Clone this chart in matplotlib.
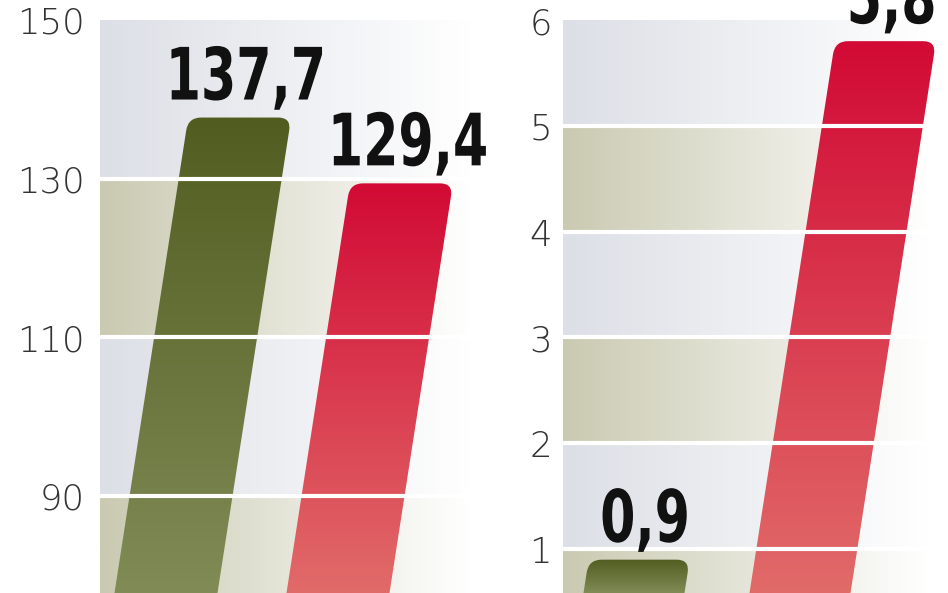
import numpy as np
import matplotlib
matplotlib.use("Agg")
import matplotlib.pyplot as plt
from matplotlib.path import Path
from matplotlib.patches import PathPatch
from matplotlib.patheffects import AbstractPathEffect
from matplotlib.transforms import Affine2D, blended_transform_factory, ScaledTranslation
from matplotlib import font_manager as fm
from matplotlib.colors import to_rgb

# ---- data ----
left_ticks = [90, 110, 130, 150]
left_values = [137.7, 129.4]
left_labels = ["137,7", "129,4"]
right_ticks = [1, 2, 3, 4, 5, 6]
right_values = [0.9, 5.8]
right_labels = ["0,9", "5,8"]

# ---- style ----
GREEN = ("#515d20", "#808b56")
RED = ("#d20a35", "#e16b69")
BAND_A = "#dcdfe6"
BAND_B = "#cacab2"
TICK_COLOR = "#333333"

names = {f.name for f in fm.fontManager.ttflist}
if "Liberation Sans Narrow" in names:
    LABEL_FONT = dict(family=["Liberation Sans Narrow", "DejaVu Sans"], fontweight="bold")
    SCALE_X = 1.0
else:
    LABEL_FONT = dict(family=["DejaVu Sans"], fontweight="bold", fontstretch="condensed")
    SCALE_X = 0.78


class HScale(AbstractPathEffect):
    """Compress a text horizontally about its own centre."""

    def __init__(self, sx):
        super().__init__()
        self.sx = sx

    def draw_path(self, renderer, gc, tpath, affine, rgbFace=None):
        v = affine.transform(tpath.vertices)
        if tpath.codes is not None:
            v = v[np.asarray(tpath.codes) != Path.CLOSEPOLY]
        if len(v):
            cx = (v[:, 0].min() + v[:, 0].max()) / 2
        else:
            cx = 0
        aff = affine + Affine2D().translate(-cx, 0).scale(self.sx, 1).translate(cx, 0)
        renderer.draw_path(gc, tpath, aff, rgbFace)


W, H = 948, 593
fig = plt.figure(figsize=(W / 100, H / 100), dpi=100)

AX_H = 573  # px
SLANT = 0.155  # horizontal px per vertical px


def draw_panel(ax_left_px, ax_w_px, bg_w, ylim, ticks, values, labels,
               centers, bar_w, colors, label_right_px):
    ax = fig.add_axes([ax_left_px / W, 0, ax_w_px / W, AX_H / H])
    ax.set_xlim(0, ax_w_px)
    ax.set_ylim(*ylim)
    ppu = AX_H / (ylim[1] - ylim[0])
    for s in ax.spines.values():
        s.set_visible(False)
    ax.set_xticks([])
    ax.set_yticks([])

    # tick labels
    tr = blended_transform_factory(ax.transAxes, ax.transData) + \
        ScaledTranslation(0, -4 / 100, fig.dpi_scale_trans)
    for t in ticks:
        ax.text(label_right_px / ax_w_px, t, str(t), transform=tr,
                ha="right", va="center", fontsize=25.5, color=TICK_COLOR,
                family="DejaVu Sans", fontweight="light", clip_on=False)

    # background bands with horizontal fade to white
    bounds = sorted(set([ylim[0]] + list(ticks)), reverse=True)
    tvals = np.linspace(0, 1, 256)
    for i in range(len(bounds) - 1):
        top, bot = bounds[i], bounds[i + 1]
        c = np.array(to_rgb(BAND_A if i % 2 == 0 else BAND_B))
        grad = c[None, :] + (1 - c[None, :]) * (tvals[:, None] ** 1.0)
        img = grad[None, :, :]
        ax.imshow(img, extent=(0, bg_w, bot, top), aspect="auto",
                  interpolation="bilinear", zorder=0)

    # slanted bars
    for j, (v, lab) in enumerate(zip(values, labels)):
        cx0 = centers[j]
        hp = (v - ylim[0]) * ppu
        r = 13
        xl = lambda yp: cx0 + SLANT * yp - bar_w / 2
        xr = lambda yp: cx0 + SLANT * yp + bar_w / 2
        ptsp = [
            (xl(-20), -20),
            (xl(hp - r), hp - r),
            (xl(hp), hp),
            (xl(hp) + r, hp),
            (xr(hp) - r, hp),
            (xr(hp), hp),
            (xr(hp - r), hp - r),
            (xr(-20), -20),
            (xl(-20), -20),
        ]
        codes = [Path.MOVETO, Path.LINETO, Path.CURVE3, Path.CURVE3,
                 Path.LINETO, Path.CURVE3, Path.CURVE3, Path.LINETO,
                 Path.CLOSEPOLY]
        verts = [(x, ylim[0] + y / ppu) for x, y in ptsp]
        patch = PathPatch(Path(verts, codes), facecolor="none",
                          edgecolor="none", zorder=2)
        ax.add_patch(patch)
        ct = np.array(to_rgb(colors[j][0]))
        cb = np.array(to_rgb(colors[j][1]))
        s = np.linspace(0, 1, 256)[:, None]
        g = ct[None, :] * (1 - s) + cb[None, :] * s
        im = ax.imshow(g[:, None, :], extent=(xl(-20), xr(hp), ylim[0], v),
                       origin="upper", aspect="auto",
                       interpolation="bilinear", zorder=2)
        im.set_clip_path(patch)
        ax.text(cx0 + SLANT * hp + 6, v + 18 / ppu, lab, ha="center",
                va="baseline", fontsize=52, color="#111111",
                clip_on=False, zorder=5,
                path_effects=[HScale(SCALE_X)], **LABEL_FONT)

    # white separators
    for t in ticks:
        if t < ylim[1] - 1e-9:
            ax.axhline(t, color="white", lw=3.0, zorder=4)
    ax.set_xlim(0, ax_w_px)
    ax.set_ylim(*ylim)
    return ax


draw_panel(100, 375, 370, (77.74, 150), left_ticks, left_values, left_labels,
           centers=[66, 238], bar_w=103, colors=[GREEN, RED],
           label_right_px=-15)
draw_panel(563, 385, 367, (0.585, 6.0), right_ticks, right_values,
           right_labels, centers=[71, 237], bar_w=101, colors=[GREEN, RED],
           label_right_px=-11)

fig.savefig("out.png", dpi=100)
